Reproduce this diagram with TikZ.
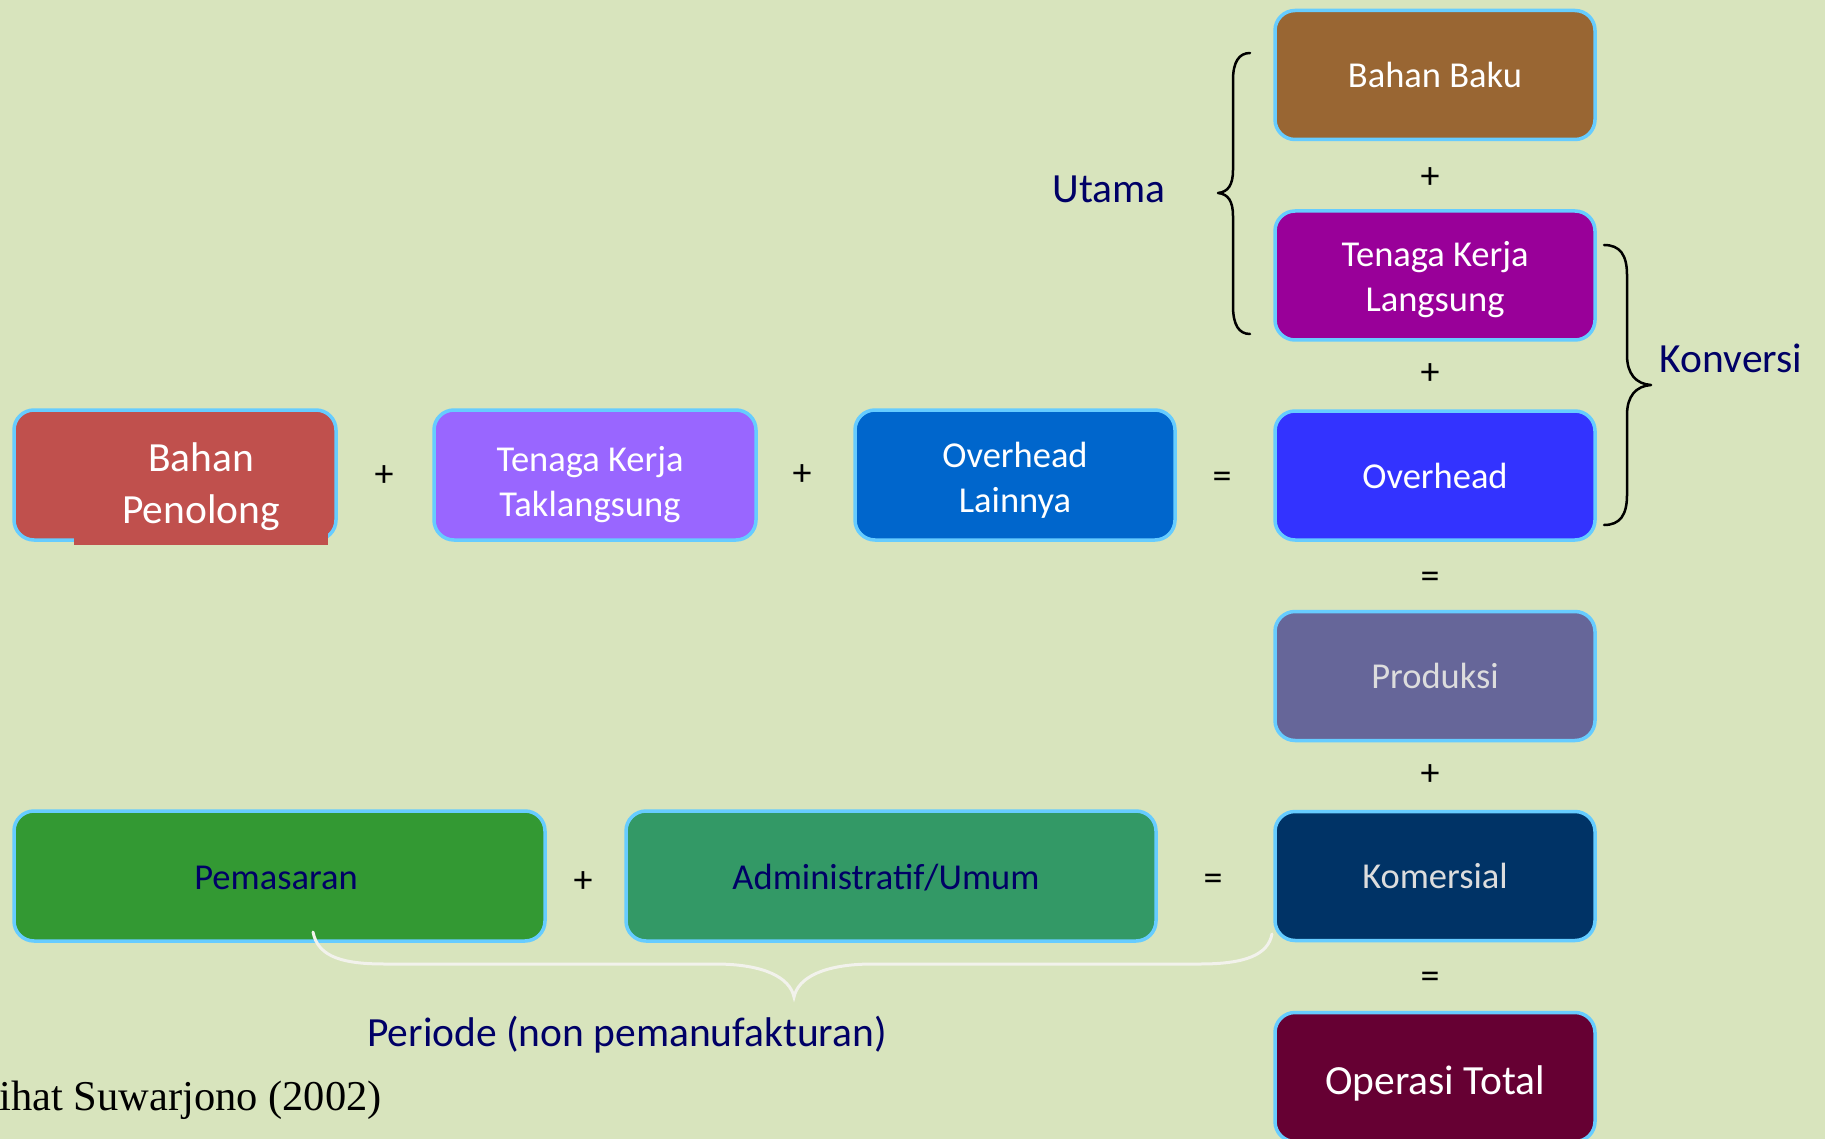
\documentclass[tikz,border=0pt]{standalone}
\usepackage{fontspec}
\setmainfont{Carlito}
\newfontfamily\citefont{Liberation Serif}
\definecolor{bg}{HTML}{D8E4BD}
\definecolor{boxline}{HTML}{66CCFF}
\definecolor{navy}{HTML}{000066}
\definecolor{cBaku}{HTML}{996633}
\definecolor{cTKL}{HTML}{990099}
\definecolor{cOH}{HTML}{3333FF}
\definecolor{cProd}{HTML}{666699}
\definecolor{cKom}{HTML}{003366}
\definecolor{cOp}{HTML}{660033}
\definecolor{cBP}{HTML}{C0504D}
\definecolor{cTKT}{HTML}{9966FF}
\definecolor{cOHL}{HTML}{0066CC}
\definecolor{cPem}{HTML}{339933}
\definecolor{cAdm}{HTML}{339966}
\definecolor{lightgray2}{HTML}{DDDDDD}
\definecolor{bracewhite}{HTML}{F2F2EC}
\begin{document}
\begin{tikzpicture}[x=1pt,y=-1pt,
  costbox/.style={draw=boxline, line width=3.5pt, rounded corners=20pt,
    minimum width=320pt, minimum height=129pt, inner sep=0pt, align=center,
    text=white, font=\fontsize{36.5}{45}\selectfont},
  bigtext/.style={font=\fontsize{41.5}{52}\selectfont},
  opsign/.style={font=\fontsize{38}{40}\selectfont, inner sep=0pt, text=black},
  lbl/.style={text=navy, font=\fontsize{41.5}{48}\selectfont, inner sep=0pt},
  bracepath/.style={line width=2.5pt, black, line cap=round, line join=round}]
\useasboundingbox (0,0) rectangle (1825,1139);
\fill[bg] (0,0) rectangle (1825,1139);

% right column
\node[costbox, fill=cBaku] (bb) at (1435,75) {Bahan Baku};
\node[costbox, fill=cTKL] (tkl) at (1435,275.5) {};
\node[text=white, align=center, inner sep=0pt, font=\fontsize{36.5}{45}\selectfont] (tkltext) at (1435,280) {Tenaga Kerja\\Langsung};
\node[costbox, fill=cOH] (oh) at (1435,475.5) {Overhead};
\node[costbox, fill=cProd, text=lightgray2] (prod) at (1435,676) {Produksi};
\node[costbox, fill=cKom, text=lightgray2] (kom) at (1435,876) {Komersial};
\node[costbox, fill=cOp] (op) at (1435,1077) {};
\node[text=white, bigtext, inner sep=0pt] (optext) at (1435,1083) {Operasi Total};

% middle row
\node[costbox, fill=cBP, minimum width=322pt, minimum height=130pt] (bp) at (175,475) {};
\fill[cBP] (74,420) rectangle (328,545);
\node[text=white, bigtext, align=center, inner sep=0pt] (bptext) at (201,487) {Bahan\\Penolong};
\node[costbox, fill=cTKT, minimum width=322pt, minimum height=130pt] (tkt) at (595,475) {};
\node[text=white, align=center, inner sep=0pt, font=\fontsize{36.5}{45}\selectfont] (tkttext) at (590,485) {Tenaga Kerja\\Taklangsung};
\node[costbox, fill=cOHL, minimum height=130pt] (ohl) at (1015,475) {};
\node[text=white, align=center, inner sep=0pt, font=\fontsize{36.5}{45}\selectfont] (ohltext) at (1015,480) {Overhead\\Lainnya};

% bottom row
\node[costbox, fill=cPem, text=navy, minimum width=531pt, minimum height=130pt] (pem) at (279.5,876) {};
\node[text=navy, inner sep=0pt, font=\fontsize{36.5}{45}\selectfont] (pemtext) at (276,878) {Pemasaran};
\node[costbox, fill=cAdm, text=navy, minimum width=530pt, minimum height=130pt] (adm) at (891,876) {};
\node[text=navy, inner sep=0pt, font=\fontsize{36.5}{45}\selectfont] (admtext) at (886,878) {Administratif/Umum};

% operators
\node[opsign] (p1) at (384,476) {+};
\node[opsign] (p2) at (802,475) {+};
\node[opsign] (e1) at (1222,480) {=};
\node[opsign] (p3) at (1430,178) {+};
\node[opsign] (p4) at (1430,374) {+};
\node[opsign] (e2) at (1430,580) {=};
\node[opsign] (p5) at (1430,775) {+};
\node[opsign] (e3) at (1430,980) {=};
\node[opsign] (p6) at (583,882) {+};
\node[opsign] (e4) at (1213,882) {=};

% labels
\node[lbl, anchor=base] (utama) at (1109,203) {Utama};
\node[lbl, anchor=base] (konv) at (1731,372) {Konversi};
\node[lbl, anchor=base] (periode) at (627,1046) {Periode (non pemanufakturan)};
\node[inner sep=0pt, anchor=base east, font=\citefont\fontsize{42.5}{48}\selectfont] (cite) at (382,1110) {Lihat Suwarjono (2002)};

% Utama brace
\draw[bracepath] (1250,53) .. controls (1239,53) and (1233,62) .. (1233,80)
  -- (1233,170) .. controls (1233,185) and (1228,192) .. (1218,193)
  .. controls (1228,194) and (1233,201) .. (1233,216)
  -- (1233,306) .. controls (1233,325) and (1239,334) .. (1250,334);
% Konversi brace
\draw[bracepath] (1604,245) .. controls (1620,245) and (1627,255) .. (1627,275)
  -- (1627,355) .. controls (1627,374) and (1636,384) .. (1651,385)
  .. controls (1636,386) and (1627,396) .. (1627,415)
  -- (1627,495) .. controls (1627,515) and (1620,525) .. (1604,525);
% Periode brace
\draw[line width=3pt, bracewhite, line cap=round] (313,932)
  .. controls (318,958) and (345,964) .. (385,964) -- (715,964)
  .. controls (765,964) and (790,978) .. (794,997)
  .. controls (798,978) and (823,964) .. (873,964) -- (1200,964)
  .. controls (1245,964) and (1268,955) .. (1272,934);
\end{tikzpicture}
\end{document}
